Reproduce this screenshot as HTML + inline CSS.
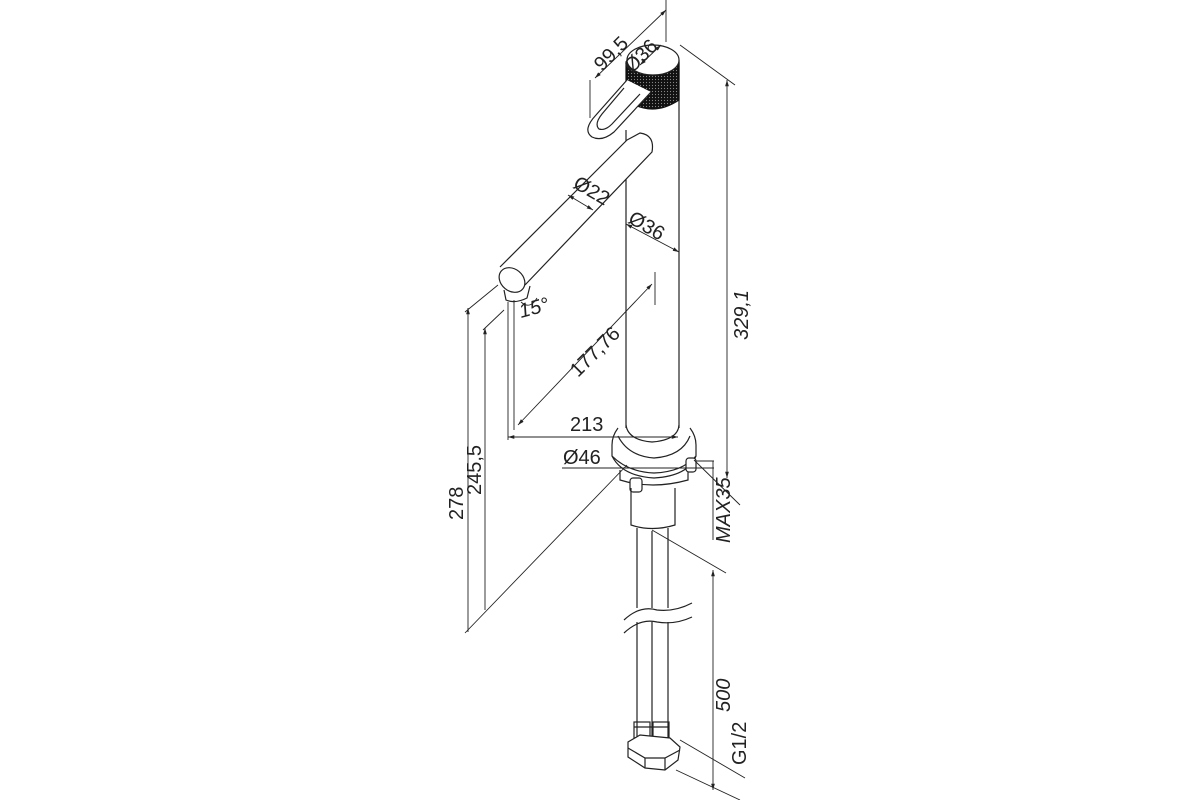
<!DOCTYPE html>
<html><head><style>html,body{margin:0;padding:0;background:#fff}svg{display:block}text{font-family:"Liberation Sans",sans-serif;font-size:20px;fill:#222}</style></head>
<body>
<svg width="1200" height="800" viewBox="0 0 1200 800" xmlns="http://www.w3.org/2000/svg">
<defs>
<pattern id="knurl" width="3" height="3" patternUnits="userSpaceOnUse"><rect width="3" height="3" fill="#111"/><circle cx="1.5" cy="1.5" r="0.6" fill="#888"/></pattern>
<marker id="a" viewBox="0 0 10 10" refX="10" refY="5" markerWidth="7" markerHeight="7" orient="auto-start-reverse"><path d="M0,2 L10,5 L0,8 z" fill="#222"/></marker>
</defs>
<g fill="none" stroke="#222" stroke-width="1.2">
<line x1="626" y1="130" x2="626" y2="428"/>
<line x1="679" y1="60" x2="679" y2="428"/>
<path d="M626,62 L626,100 Q652,118 679,100 L679,62 Z" fill="url(#knurl)" stroke="#111"/>
<ellipse cx="653" cy="60" rx="26" ry="15" fill="#fff"/>
<path d="M627,80 L596,115 Q582,130 592,137 Q602,142 614,132 L651,92" fill="#fff"/>
<path d="M624,88 L602,114 Q594,124 599,129 Q605,131 612,124 L640,94" fill="#fff"/>
<path d="M627,140 L640,133 Q655,135 652,152 L525,285 M627,140 L500,267" fill="#fff"/>
<ellipse cx="512" cy="280" rx="14" ry="11" transform="rotate(40 512 280)" fill="#fff"/>
<path d="M504,290 L506,300 Q515,304 527,298 L530,286"/>
<!-- base ring -->
<path d="M618,428 Q612,436 612,445 L612,456 Q622,476 654,478 Q688,476 696,456 L696,445 Q696,436 690,428"/>
<path d="M626,425 Q628,440 652,442 Q678,440 679,425"/>
<path d="M618,436 Q628,456 654,458 Q682,456 690,436"/>
<path d="M612,456 Q628,472 654,473 Q682,472 696,456"/>
<path d="M620,470 L620,480 Q652,490 688,480 L688,470"/>
<rect x="630" y="478" width="12" height="14" rx="3" fill="#fff"/>
<rect x="686" y="458" width="10" height="14" rx="3" fill="#fff"/>
<path d="M631,488 L631,525 Q652,532 675,525 L675,488"/>
<line x1="637" y1="528" x2="637" y2="745"/>
<line x1="652" y1="531" x2="652" y2="745"/>
<line x1="668" y1="528" x2="668" y2="745"/>
<rect x="630" y="608" width="50" height="14" fill="#fff" stroke="none"/>
<path d="M624,620 Q640,605 657,610 Q675,612 692,603"/>
<path d="M624,633 Q640,618 657,622 Q675,625 692,617"/>
<rect x="634" y="722" width="16" height="16"/><rect x="653" y="722" width="16" height="16"/>
<line x1="634" y1="727" x2="669" y2="727"/>
<path d="M628,742 L628,757 L645,768 L665,770 L678,760 L680,747 L670,738 L640,735 Z" fill="#fff"/>
<path d="M628,748 L645,758 L665,758 L680,750 M645,758 L645,768 M665,758 L665,770"/>
<g stroke-width="0.9">
<line x1="590" y1="80" x2="590" y2="118"/>
<line x1="595" y1="78" x2="666" y2="10" marker-start="url(#a)" marker-end="url(#a)"/>
<line x1="666" y1="0" x2="666" y2="42"/>
<line x1="640" y1="65" x2="661" y2="45" marker-start="url(#a)" marker-end="url(#a)"/>
<line x1="680" y1="45" x2="735" y2="85"/>
<line x1="727" y1="80" x2="727" y2="478" marker-start="url(#a)" marker-end="url(#a)"/>
<line x1="694" y1="460" x2="740" y2="505"/>
<line x1="568" y1="195" x2="593" y2="210" marker-start="url(#a)" marker-end="url(#a)"/>
<line x1="626" y1="224" x2="679" y2="252" marker-start="url(#a)" marker-end="url(#a)"/>
<line x1="655" y1="272" x2="655" y2="305"/>
<line x1="518" y1="425" x2="652" y2="284" marker-start="url(#a)" marker-end="url(#a)"/>
<line x1="514" y1="300" x2="514" y2="430"/>
<line x1="508" y1="302" x2="508" y2="440"/>
<line x1="508" y1="437" x2="678" y2="437" marker-start="url(#a)" marker-end="url(#a)"/>
<line x1="468" y1="308" x2="468" y2="632" marker-start="url(#a)"/>
<line x1="465" y1="312" x2="498" y2="285"/>
<line x1="485" y1="328" x2="485" y2="610" marker-start="url(#a)"/>
<line x1="483" y1="330" x2="504" y2="310"/>
<line x1="465" y1="633" x2="627" y2="465"/>
<line x1="562" y1="468" x2="714" y2="468"/>
<line x1="696" y1="461" x2="714" y2="461"/>
<line x1="713" y1="461" x2="713" y2="540"/>
<line x1="652" y1="530" x2="726" y2="573"/>
<line x1="713" y1="570" x2="713" y2="790" marker-start="url(#a)" marker-end="url(#a)"/>
<line x1="680" y1="740" x2="745" y2="778"/>
<line x1="676" y1="770" x2="740" y2="800"/>
</g>
</g>
<path d="M521,302 Q530,310 537,298" fill="none" stroke="#222" stroke-width="0.9"/>
<text transform="translate(602,72) rotate(-45)">99,5</text>
<text transform="translate(632,74) rotate(-45)">Ø36</text>
<text transform="translate(572,187) rotate(30)">Ø22</text>
<text transform="translate(627,222) rotate(30)">Ø36</text>
<text transform="translate(521,318) rotate(-15)" font-style="italic" font-size="17">15°</text>
<text transform="translate(578,378) rotate(-45)">177,76</text>
<text x="570" y="431">213</text>
<text x="563" y="464">Ø46</text>
<text transform="translate(748,340) rotate(-90)" font-style="italic">329,1</text>
<text transform="translate(463,520) rotate(-90)">278</text>
<text transform="translate(481,495) rotate(-90)">245,5</text>
<text transform="translate(730,543) rotate(-90)" font-style="italic">MAX35</text>
<text transform="translate(730,712) rotate(-90)" font-style="italic">500</text>
<text transform="translate(746,765) rotate(-90)">G1/2</text>
</svg>
</body></html>
